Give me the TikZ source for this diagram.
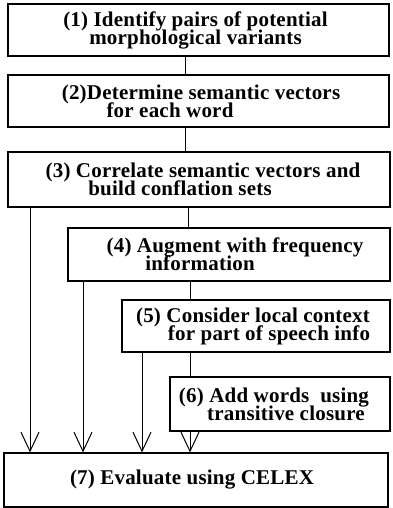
\documentclass[tikz,border=0pt]{standalone}
\usepackage{fontspec}
\setmainfont[LetterSpace=1]{Liberation Serif}
\usetikzlibrary{arrows.meta}
\tikzset{
  stepbox/.style={draw=black, line width=1.2pt, rectangle, inner sep=0pt, align=center,
    font={\fontsize{21}{18}\selectfont\bfseries\lineskiplimit=-30pt\relax}},
  link/.style={draw=black, line width=1pt},
  arr/.style={link, -{Straight Barb[length=19pt,width=18pt,line width=1pt]}}
}
\newcommand{\lp}[1]{\hspace*{#1pt}}
\begin{document}
\begin{tikzpicture}[x=1pt,y=-1pt]
\useasboundingbox (0,0) rectangle (392,508);
% boxes: center ((l+r)/2,(t+b)/2), width r-l, height b-t
\node[stepbox, minimum width=381pt, minimum height=52pt] (b1) at (198.5,30)
  {(1) Identify pairs of potential\lp{6}\\ morphological variants\lp{6}};
\node[stepbox, minimum width=381pt, minimum height=52pt] (b2) at (198.5,101)
  {\lp{5}(2)Determine semantic vectors\\ for each word\lp{57}};
\node[stepbox, minimum width=382pt, minimum height=55pt] (b3) at (199,179.5)
  {\lp{8}(3) Correlate semantic vectors and\\ build conflation sets\lp{38}};
\node[stepbox, minimum width=322pt, minimum height=53pt] (b4) at (229,254.5)
  {\lp{12}(4) Augment with frequency\\ information\lp{58}};
\node[stepbox, minimum width=268pt, minimum height=52pt] (b5) at (256,326)
  {(5) Consider local context\lp{6}\\ \lp{26}for part of speech info};
\node[stepbox, minimum width=220pt, minimum height=54pt] (b6) at (280,404)
  {(6) Add words\ \ using\lp{12}\\ \lp{12}transitive closure};
\node[stepbox, minimum width=384pt, minimum height=54pt] (b7) at (196,480)
  {(7) Evaluate using CELEX\lp{8}};
% x positions of connectors
\coordinate (xa) at (185,0);
\coordinate (xb) at (188,0);
\coordinate (xc) at (190,0);
\coordinate (x3) at (30,0);
\coordinate (x4) at (83,0);
\coordinate (x5) at (142,0);
% sequential links
\draw[link] (b1.south -| xa) -- (b2.north -| xa);
\draw[link] (b2.south -| xa) -- (b3.north -| xa);
\draw[link] (b3.south -| xb) -- (b4.north -| xb);
\draw[link] (b4.south -| xc) -- (b5.north -| xc);
\draw[link] (b5.south -| xc) -- (b6.north -| xc);
% arrows to evaluation
\draw[arr] (b3.south -| x3) -- (b7.north -| x3);
\draw[arr] (b4.south -| x4) -- (b7.north -| x4);
\draw[arr] (b5.south -| x5) -- (b7.north -| x5);
\draw[arr] (b6.south -| xc) -- (b7.north -| xc);
\end{tikzpicture}
\end{document}
